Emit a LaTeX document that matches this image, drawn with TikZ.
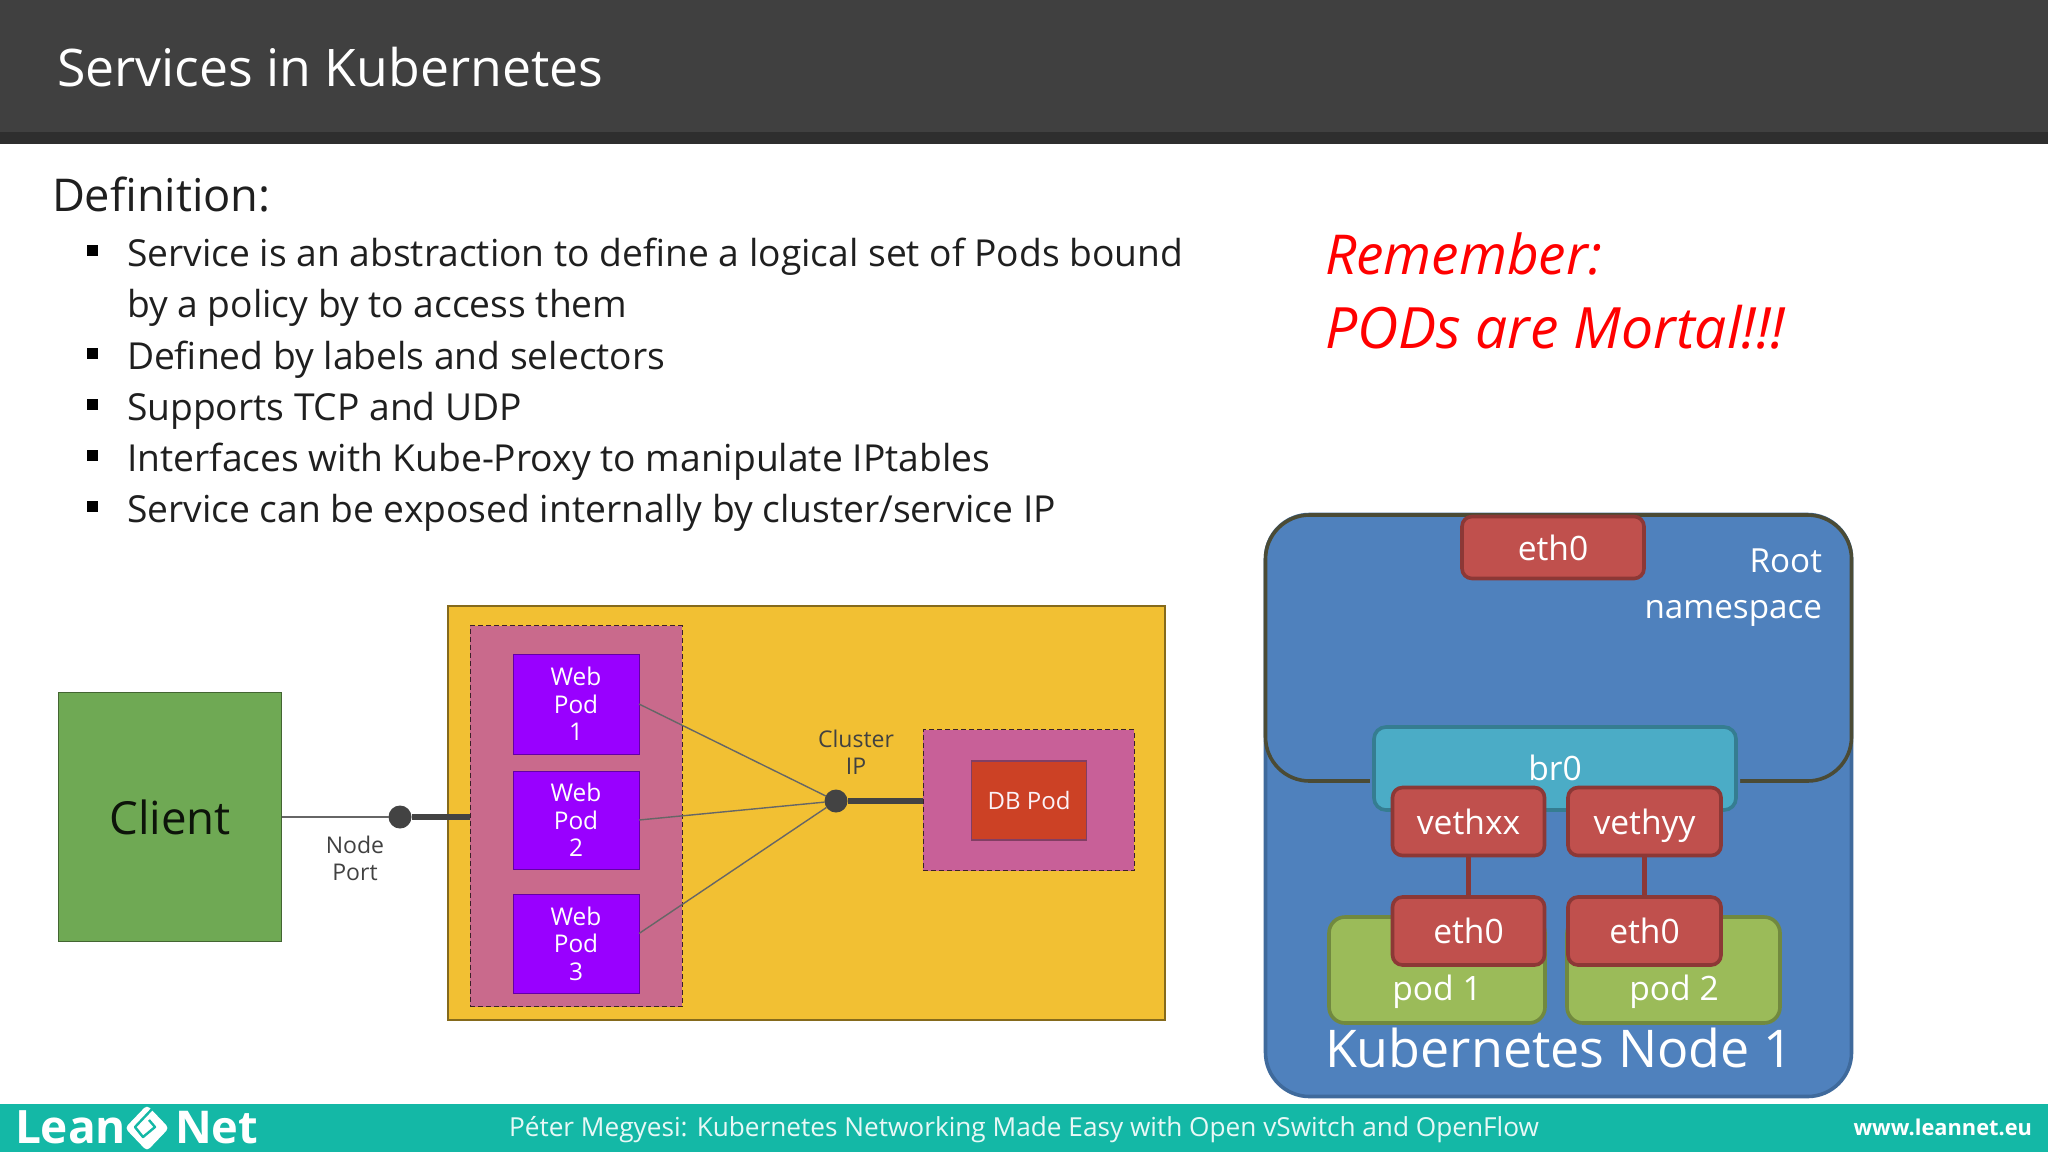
\documentclass[tikz,border=0pt]{standalone}
\usepackage{fontspec}
\setmainfont{Open Sans}
\usetikzlibrary{calc}
\definecolor{hdr}{HTML}{404040}
\definecolor{hdrb}{HTML}{2E2E2E}
\definecolor{teal}{HTML}{14B8A6}
\definecolor{txt}{HTML}{1F1F1F}
\definecolor{nblue}{HTML}{4F81BD}
\definecolor{nblueb}{HTML}{3F6A9C}
\definecolor{rootb}{HTML}{4B4B35}
\definecolor{rred}{HTML}{C0504D}
\definecolor{rredb}{HTML}{8C3836}
\definecolor{cyan2}{HTML}{4BACC6}
\definecolor{cyanb}{HTML}{357D91}
\definecolor{pgreen}{HTML}{9BBB59}
\definecolor{pgreenb}{HTML}{71893F}
\definecolor{cgreen}{HTML}{6FA954}
\definecolor{yell}{HTML}{F2C033}
\definecolor{pinka}{HTML}{C96A8C}
\definecolor{pinkb}{HTML}{C86098}
\definecolor{vio}{HTML}{9900FF}
\definecolor{dbred}{HTML}{CC4125}
\definecolor{dk}{HTML}{434343}
\tikzset{
  px/.style={font=\fontsize{#1}{#1}\selectfont},
  plain/.style={inner sep=0pt,outer sep=0pt},
  body/.style={plain,anchor=base west,text=txt,px=18.6},
  bul/.style={plain,fill=black,minimum size=5.5pt},
  redbox/.style={plain,rounded corners=5pt,fill=rred,draw=rredb,line width=1.8pt,text=white,px=16.8,text depth=0pt},
  greenbox/.style={plain,rounded corners=8pt,fill=pgreen,draw=pgreenb,line width=1.8pt},
  wtext/.style={plain,text=white,align=center},
  webpod/.style={plain,fill=vio,draw=black!35!vio,line width=.5pt,minimum width=63pt,text=white,align=center,font=\fontsize{12.2}{13.8}\selectfont},
  dot/.style={plain,circle,fill=dk,minimum size=11.5pt},
  thin2/.style={draw=black!60,line width=.7pt},
  thick2/.style={draw=dk,line width=3pt},
  dashbox/.style={plain,fill=pinka,draw=black!70!pinka,dash pattern=on 2.5pt off 1.5pt,line width=.5pt},
  lab/.style={plain,align=center,text=txt!85!white,font=\fontsize{11.5}{13.4}\selectfont},
  redrem/.style={plain,anchor=base west,text=red,font=\fontsize{28.5}{28.5}\selectfont\itshape}
}
\begin{document}
\begin{tikzpicture}[x=0.5pt,y=-0.5pt]
\useasboundingbox (0,0) rectangle (2048,1152);
\fill[white] (0,0) rectangle (2048,1152);
% header
\fill[hdr] (0,0) rectangle (2048,132);
\fill[hdrb] (0,132) rectangle (2048,144);
\node[plain,anchor=base west,text=white,font=\fontsize{25.9}{26}\selectfont] (title) at (57,86) {Services in Kubernetes};
% text
\node[plain,anchor=base west,text=txt,font=\fontsize{22.6}{23}\selectfont] (def) at (52,211) {Definition:};
\node[body] (l1) at (127,266) {Service is an abstraction to define a logical set of Pods bound};
\node[body] (l1b) at (127,317) {by a policy by to access them};
\node[body] (l2) at (127,369) {Defined by labels and selectors};
\node[body] (l3) at (127,420) {Supports TCP and UDP};
\node[body] (l4) at (127,471) {Interfaces with Kube-Proxy to manipulate IPtables};
\node[body] (l5) at (127,522) {Service can be exposed internally by cluster/service IP};
\node[bul] (b1) at (92,250) {};
\node[bul] (b2) at (92,353) {};
\node[bul] (b3) at (92,404) {};
\node[bul] (b4) at (92,455) {};
\node[bul] (b5) at (92,506) {};
\node[redrem,font=\fontsize{27.5}{28}\selectfont\itshape] (rem1) at (1325,274) {Remember:};
\node[redrem] (rem2) at (1325,348) {PODs are Mortal!!!};
% left diagram
\node[plain,fill=yell,draw=black!45!yell,line width=.7pt,minimum width=358.5pt,minimum height=207pt] (cluster) at (806.5,813) {};
\node[dashbox,minimum width=106pt,minimum height=190.5pt] (webgrp) at (576,816) {};
\node[webpod,minimum height=50pt] (wp1) at (576,704) {Web\\Pod\\1};
\node[webpod,minimum height=49pt] (wp2) at (576,820) {Web\\Pod\\2};
\node[webpod,minimum height=49.5pt] (wp3) at (576,943.5) {Web\\Pod\\3};
\node[dashbox,fill=pinkb,minimum width=105.5pt,minimum height=70.5pt] (dbgrp) at (1028.5,800) {};
\node[plain,fill=dbred,draw=black!35!pinkb,line width=.6pt,minimum width=57.5pt,minimum height=39.5pt,text=white!92!pinkb,font=\fontsize{12}{14}\selectfont] (db) at (1029,800.5) {DB Pod};
\node[plain,fill=cgreen,draw=black!40!cgreen,line width=.5pt,minimum width=111.5pt,minimum height=124.5pt,text=black!88!cgreen,font=\fontsize{22.8}{24}\selectfont] (client) at (170,817) {Client};
\node[dot] (np) at (400,817) {};
\node[dot] (cip) at (836,801) {};
\draw[thin2] (client.east) -- (np);
\draw[thick2] (np) -- (np -| webgrp.west);
\draw[thick2] (cip) -- (cip -| dbgrp.west);
\draw[thin2] (wp1.east) -- (cip);
\draw[thin2] (wp2.east) -- (cip);
\draw[thin2] ([yshift=5pt]wp3.east) -- (cip);
\node[lab] (nplab) at (355,858) {Node\\Port};
\node[lab] (ciplab) at (856,752) {Cluster\\IP};
% right diagram
\node[plain,rounded corners=22pt,fill=nblue,draw=nblueb,line width=1.8pt,minimum width=293pt,minimum height=291pt] (knode) at (1558.5,805.5) {};
\node[plain,rounded corners=22pt,fill=nblue,draw=rootb,line width=1.8pt,minimum width=293pt,minimum height=133pt] (rootns) at (1558.5,648) {};
\node[redbox,minimum width=91pt,minimum height=31pt] (etht) at (1553,547.5) {eth0};
\node[wtext,font=\fontsize{16.6}{23}\selectfont,align=right,anchor=north east] (rootlab) at (1822,549) {Root\\namespace};
\node[plain,rounded corners=6pt,fill=cyan2,draw=cyanb,line width=1.8pt,minimum width=181pt,minimum height=41.5pt,text=white,preaction={draw=nblue,line width=4pt}] (br) at (1555,768.5) {};
\node[wtext,px=16.8] (brlab) at (1555,768) {br0};
\node[greenbox,minimum width=108pt,minimum height=53pt] (pod1) at (1437,970) {};
\node[greenbox,minimum width=106.5pt,minimum height=53pt] (pod2) at (1673.5,970) {};
\node[redbox,minimum width=76pt,minimum height=34pt] (vx) at (1468.5,821.5) {vethxx};
\node[redbox,minimum width=76.5pt,minimum height=34pt] (vy) at (1644.5,821.5) {vethyy};
\node[redbox,minimum width=76pt,minimum height=34pt] (e1) at (1468.5,931) {eth0};
\node[redbox,minimum width=76.5pt,minimum height=34pt] (e2) at (1644.5,931) {eth0};
\draw[draw=rredb,line width=2.5pt] (vx) -- (e1);
\draw[draw=rredb,line width=2.5pt] (vy) -- (e2);
\node[wtext,px=16.8] (p1lab) at (1437,992) {pod 1};
\node[wtext,px=16.8] (p2lab) at (1674,992) {pod 2};
\node[wtext,font=\fontsize{26}{26}\selectfont] (klab) at (1559,1048) {Kubernetes Node 1};
% footer
\fill[teal] (0,1104) rectangle (2048,1152);
\node[plain,anchor=base west,text=white,font=\fontsize{23}{23}\selectfont\bfseries] (lean) at (15,1143) {Lean};
\node[plain,anchor=base west,text=white,font=\fontsize{22.6}{23}\selectfont\bfseries] (net) at (175,1143) {Net};
\fill[white,rounded corners=2pt] (147,1105) -- (169,1128) -- (147,1151) -- (125,1128) -- cycle;
\draw[teal,line width=1.2pt,line join=round] (153,1108) -- (135,1127) -- (143,1137) -- (155,1127) -- (149,1120);
\node[plain,text=white!90!teal,font=\fontsize{13.1}{14}\selectfont] (foot) at (1024,1130) {Péter Megyesi: Kubernetes Networking Made Easy with Open vSwitch and OpenFlow};
\node[plain,anchor=east,text=white,font=\fontsize{10.9}{12}\selectfont\bfseries] (www) at (2032,1127) {www.leannet.eu};
\end{tikzpicture}
\end{document}
